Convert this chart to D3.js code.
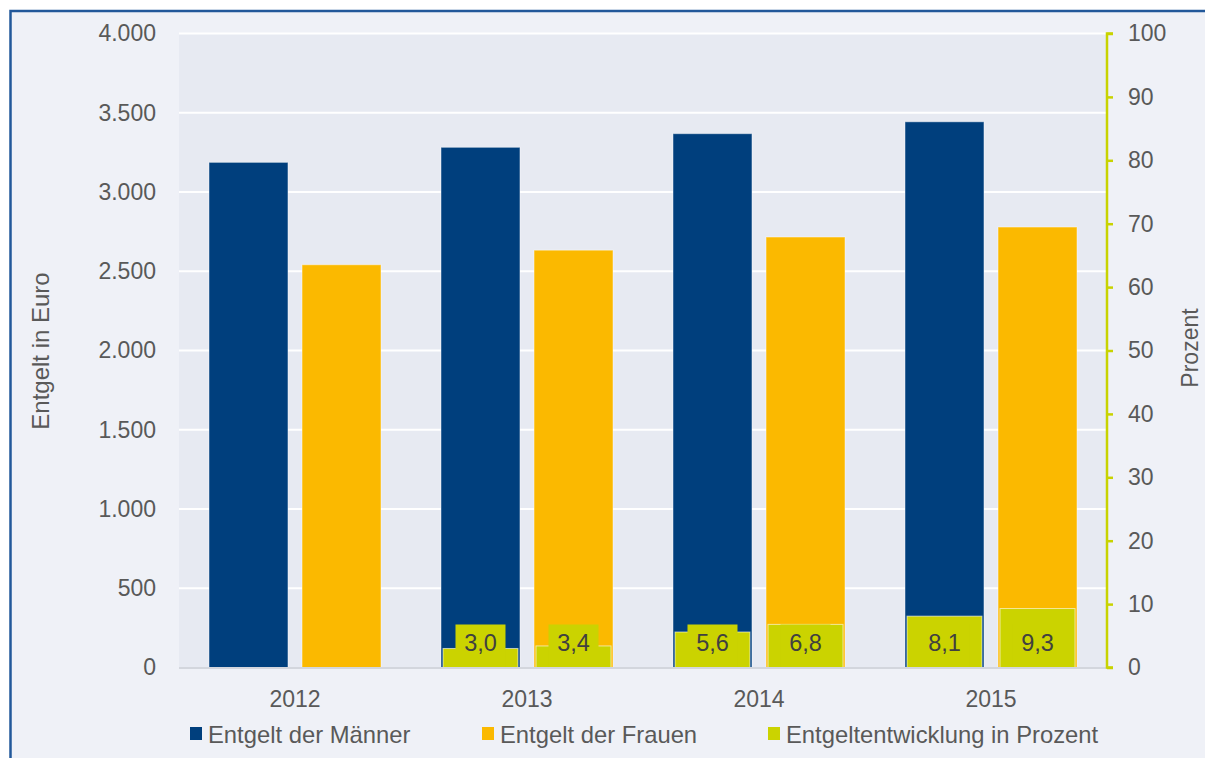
<!DOCTYPE html>
<html>
<head>
<meta charset="utf-8">
<script src="https://cdn.jsdelivr.net/npm/d3@7"></script>
<style>
  html, body { margin: 0; padding: 0; background: #ffffff; overflow: hidden; }
  svg { display: block; font-family: "Liberation Sans", Arial, sans-serif; }
</style>
</head>
<body>
<svg id="chart" width="1205" height="758"></svg>
<script>
const years = ["2012", "2013", "2014", "2015"];
const seriesNames = ["Entgelt der Männer", "Entgelt der Frauen", "Entgeltentwicklung in Prozent"];
const menValues = [3187, 3282, 3368, 3443];
const womenValues = [2541, 2633, 2716, 2779];
const menGrowth = [null, 3.0, 5.6, 8.1];
const womenGrowth = [null, 3.4, 6.8, 9.3];
const leftTicks = [0, 500, 1000, 1500, 2000, 2500, 3000, 3500, 4000];
const rightTicks = [0, 10, 20, 30, 40, 50, 60, 70, 80, 90, 100];

const colors = { men: "#003f7d", women: "#fbb900", green: "#cbd300" };

const svg = d3.select("#chart");
const W = 1205, H = 758;
const plot = { left: 179, right: 1107, top: 33.5, bottom: 667.5 };

// background + frame
svg.append("rect").attr("x", 0).attr("y", 0).attr("width", W).attr("height", H).attr("fill", "#ffffff");
svg.append("rect").attr("x", 10).attr("y", 11).attr("width", W).attr("height", H).attr("fill", "#eff1f7");
svg.append("path").attr("d", `M10.5,${H} L10.5,11 L${W},11`).attr("fill", "none").attr("stroke", "#22589a").attr("stroke-width", 2.5);

// plot area
svg.append("rect").attr("x", plot.left).attr("y", plot.top).attr("width", plot.right - plot.left).attr("height", plot.bottom - plot.top).attr("fill", "#e7eaf2");

const x = d3.scaleBand().domain(years).range([plot.left, plot.right]);
const xInner = d3.scaleBand().domain(["men", "women"]).range([30, 202]).paddingInner(0.151);
const yL = d3.scaleLinear().domain([0, 4000]).range([plot.bottom, plot.top]);
const yR = d3.scaleLinear().domain([0, 100]).range([plot.bottom, plot.top]);

// gridlines
svg.append("g").selectAll("line").data(leftTicks.filter(d => d > 0)).join("line")
  .attr("x1", plot.left).attr("x2", plot.right)
  .attr("y1", d => yL(d)).attr("y2", d => yL(d))
  .attr("stroke", "#ffffff").attr("stroke-width", 2);

// bars
const bw = xInner.bandwidth();
const barData = [];
years.forEach((yr, i) => {
  barData.push({ yr, key: "men", v: menValues[i], g: menGrowth[i] });
  barData.push({ yr, key: "women", v: womenValues[i], g: womenGrowth[i] });
});

svg.append("g").selectAll("rect").data(barData).join("rect")
  .attr("x", d => x(d.yr) + xInner(d.key))
  .attr("y", d => yL(d.v))
  .attr("width", bw)
  .attr("height", d => yL(0) - yL(d.v))
  .attr("fill", d => colors[d.key])
  .attr("stroke", "rgba(255,255,255,0.45)").attr("stroke-width", 1);

// growth bars (secondary axis)
const gData = barData.filter(d => d.g != null);
svg.append("g").selectAll("rect").data(gData).join("rect")
  .attr("x", d => x(d.yr) + xInner(d.key) + 2)
  .attr("y", d => yR(d.g))
  .attr("width", bw - 4)
  .attr("height", d => yR(0) - yR(d.g))
  .attr("fill", colors.green)
  .attr("stroke", "rgba(255,255,255,0.6)").attr("stroke-width", 1);

// labels (inside base)
const lab = svg.append("g").selectAll("g").data(gData).join("g")
  .attr("transform", d => `translate(${x(d.yr) + xInner(d.key) + bw / 2},${yR(0)})`);
lab.append("rect").attr("x", -25).attr("y", -43).attr("width", 50).attr("height", 42).attr("fill", colors.green);
lab.append("text").attr("y", -25).attr("text-anchor", "middle").attr("dominant-baseline", "central")
  .attr("font-size", 23.5).attr("fill", "#404040")
  .text(d => d3.format(".1f")(d.g).replace(".", ","));

// bottom axis line
svg.append("line").attr("x1", plot.left).attr("x2", plot.right).attr("y1", plot.bottom + 0.5).attr("y2", plot.bottom + 0.5)
  .attr("stroke", "#d3d6dd").attr("stroke-width", 2);

// left axis labels
const fmtDE = d3.formatLocale({ decimal: ",", thousands: ".", grouping: [3], currency: ["", "€"] }).format(",");
const leftAxis = d3.axisLeft(yL).tickValues(leftTicks).tickSize(0).tickPadding(0).tickFormat(d => fmtDE(d));
const gl = svg.append("g").attr("transform", `translate(156,0)`).call(leftAxis);
gl.select(".domain").remove();
gl.selectAll("text").attr("font-size", 23).attr("fill", "#595959").attr("font-family", "Liberation Sans, Arial, sans-serif");

// right axis
const rightAxis = d3.axisRight(yR).tickValues(rightTicks).tickSize(6).tickPadding(15).tickFormat(d3.format("d"));
const gr = svg.append("g").attr("transform", `translate(${plot.right},0)`).call(rightAxis);
gr.select(".domain").attr("stroke", "#c8d300").attr("stroke-width", 2.5).attr("d", `M6,${plot.top}H0V${plot.bottom}H6`);
gr.selectAll(".tick line").attr("stroke", "#c8d300").attr("stroke-width", 2.5);
gr.selectAll("text").attr("font-size", 23).attr("fill", "#595959").attr("font-family", "Liberation Sans, Arial, sans-serif");

// x axis labels
const xAxis = d3.axisBottom(x).tickSize(0).tickPadding(0);
const gx = svg.append("g").attr("transform", `translate(0,${plot.bottom})`).call(xAxis);
gx.select(".domain").remove();
gx.selectAll("text").attr("font-size", 23).attr("fill", "#595959").attr("dy", null).attr("y", 31)
  .attr("dominant-baseline", "central").attr("font-family", "Liberation Sans, Arial, sans-serif");

// axis titles
svg.append("text").attr("transform", `translate(40,351) rotate(-90)`).attr("text-anchor", "middle")
  .attr("dominant-baseline", "central").attr("font-size", 24).attr("fill", "#595959").text("Entgelt in Euro");
svg.append("text").attr("transform", `translate(1190,348) rotate(-90)`).attr("text-anchor", "middle")
  .attr("dominant-baseline", "central").attr("font-size", 23).attr("fill", "#595959").text("Prozent");

// legend
const legendItems = [
  { name: seriesNames[0], color: colors.men, x: 190 },
  { name: seriesNames[1], color: colors.women, x: 482 },
  { name: seriesNames[2], color: colors.green, x: 768 }
];
const lg = svg.append("g").selectAll("g").data(legendItems).join("g")
  .attr("transform", d => `translate(${d.x},734)`);
lg.append("rect").attr("x", 0).attr("y", -7).attr("width", 12).attr("height", 13).attr("fill", d => d.color);
lg.append("text").attr("x", 18).attr("y", 0).attr("dominant-baseline", "central")
  .attr("font-size", 23.8).attr("fill", "#595959").text(d => d.name);
</script>
</body>
</html>
